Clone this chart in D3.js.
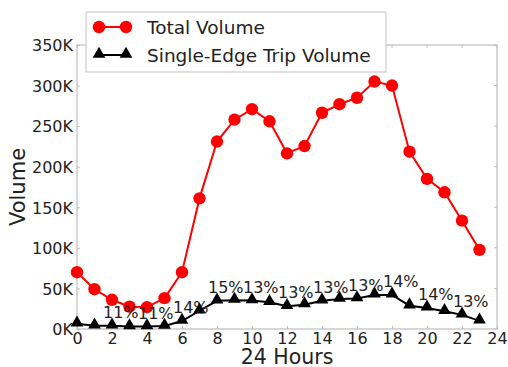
<!DOCTYPE html>
<html>
<head>
<meta charset="utf-8">
<script src="https://cdn.jsdelivr.net/npm/d3@7/dist/d3.min.js"></script>
<style>
  html, body { margin: 0; padding: 0; background: #fff; }
  svg text { font-family: "DejaVu Sans", sans-serif; fill: #222; }
</style>
</head>
<body>
<svg id="chart" width="508" height="367"></svg>
<script>
// Hourly trip volumes over a day
const hours = d3.range(0, 24);
const totalVolume = [70, 49, 36, 27.5, 27, 38, 70, 161, 231, 258, 271, 256,
                     216.5, 225.5, 266.5, 277, 285, 305, 300, 218.5, 185, 168.5, 133.5, 97.5];
const singleEdgeVolume = [6.5, 4, 4, 3, 3, 3.7, 9.8, 22.5, 34.7, 35.5, 35, 33,
                          28, 30, 34.7, 37, 37.5, 42, 42, 28.7, 26, 21.8, 17.4, 10];
// Hours whose single-edge share is annotated
const labelHours = [2, 4, 6, 8, 10, 12, 14, 16, 18, 20, 22];
const xTicks = d3.range(0, 25, 2);
const yTicks = d3.range(0, 351, 50);
const seriesNames = ["Total Volume", "Single-Edge Trip Volume"];

const svg = d3.select("#chart");
const plotLeft = 77, plotRight = 497, plotTop = 45, plotBottom = 329;

const x = d3.scaleLinear().domain([0, 24]).range([plotLeft, plotRight]);
const y = d3.scaleLinear().domain([0, 350]).range([plotBottom, plotTop]);

const frameColor = "#bdbdbd";

// Axes: labels outside, short ticks pointing inward
const xAxis = g => g.attr("transform", `translate(0,${plotBottom})`)
  .call(d3.axisBottom(x).tickValues(xTicks).tickFormat(d3.format("d")).tickSizeInner(-3).tickSizeOuter(0).tickPadding(5));
const yAxis = g => g.attr("transform", `translate(${plotLeft},0)`)
  .call(d3.axisLeft(y).tickValues(yTicks).tickFormat(d => d + "K").tickSizeInner(-3).tickSizeOuter(0).tickPadding(4));

const gx = svg.append("g").call(xAxis);
const gy = svg.append("g").call(yAxis);
[gx, gy].forEach(g => {
  g.select(".domain").remove();
  g.selectAll(".tick line").attr("stroke", frameColor);
  g.selectAll(".tick text").attr("font-size", 16).attr("fill", "#222")
    .attr("font-family", "DejaVu Sans, sans-serif");
});
gx.selectAll(".tick text").attr("dy", "0.6em");
gy.selectAll(".tick text").attr("dy", "0.36em");

// Mirrored inward ticks on top and right edges
svg.append("g").selectAll("line").data(xTicks).join("line")
  .attr("x1", d => x(d)).attr("x2", d => x(d)).attr("y1", plotTop).attr("y2", plotTop + 3)
  .attr("stroke", frameColor);
svg.append("g").selectAll("line").data(yTicks).join("line")
  .attr("x1", plotRight).attr("x2", plotRight - 3).attr("y1", d => y(d)).attr("y2", d => y(d))
  .attr("stroke", frameColor);

// Plot frame
svg.append("rect").attr("x", plotLeft).attr("y", plotTop)
  .attr("width", plotRight - plotLeft).attr("height", plotBottom - plotTop)
  .attr("fill", "none").attr("stroke", frameColor).attr("stroke-width", 1.2);

const line = d3.line().x((d, i) => x(hours[i])).y(d => y(d));
const triangle = d3.symbol().type(d3.symbolTriangle).size(70);

// Total volume series
svg.append("path").datum(totalVolume).attr("d", line)
  .attr("fill", "none").attr("stroke", "#ff0000").attr("stroke-width", 2);
svg.append("g").selectAll("circle").data(totalVolume).join("circle")
  .attr("cx", (d, i) => x(hours[i])).attr("cy", d => y(d)).attr("r", 6.2)
  .attr("fill", "#ff0000");

// Single-edge series
svg.append("path").datum(singleEdgeVolume).attr("d", line)
  .attr("fill", "none").attr("stroke", "#000").attr("stroke-width", 2);
svg.append("g").selectAll("path").data(singleEdgeVolume).join("path")
  .attr("d", triangle)
  .attr("transform", (d, i) => `translate(${x(hours[i])},${y(d) - 1})`)
  .attr("fill", "#000");

// Share of single-edge trips
svg.append("g").selectAll("text").data(labelHours).join("text")
  .attr("x", h => x(h + 0.5))
  .attr("y", h => y(singleEdgeVolume[h]) - 13.5)
  .attr("text-anchor", "middle").attr("dominant-baseline", "central")
  .attr("font-size", 16)
  .text(h => Math.round(singleEdgeVolume[h] / totalVolume[h] * 100) + "%");

// Axis titles
svg.append("text").attr("x", (plotLeft + plotRight) / 2).attr("y", 357)
  .attr("text-anchor", "middle").attr("dominant-baseline", "central")
  .attr("font-size", 20.5).text("24 Hours");
svg.append("text").attr("transform", `translate(18,${(plotTop + plotBottom) / 2}) rotate(-90)`)
  .attr("text-anchor", "middle").attr("dominant-baseline", "central")
  .attr("font-size", 21).text("Volume");

// Legend
const lg = svg.append("g");
lg.append("rect").attr("x", 86).attr("y", 12).attr("width", 300).attr("height", 60)
  .attr("fill", "#fff").attr("stroke", "#cccccc").attr("stroke-width", 1.2);
const rows = [
  { name: seriesNames[0], color: "#ff0000", marker: "circle", cy: 27 },
  { name: seriesNames[1], color: "#000", marker: "triangle", cy: 55 }
];
rows.forEach(r => {
  lg.append("line").attr("x1", 99).attr("x2", 126).attr("y1", r.cy).attr("y2", r.cy)
    .attr("stroke", r.color).attr("stroke-width", 2);
  [99, 126].forEach(cx => {
    if (r.marker === "circle") {
      lg.append("circle").attr("cx", cx).attr("cy", r.cy).attr("r", 6.2).attr("fill", r.color);
    } else {
      lg.append("path").attr("d", triangle).attr("transform", `translate(${cx},${r.cy - 1})`).attr("fill", r.color);
    }
  });
  lg.append("text").attr("x", 147).attr("y", r.cy).attr("dominant-baseline", "central")
    .attr("font-size", 18.5).text(r.name);
});
</script>
</body>
</html>
